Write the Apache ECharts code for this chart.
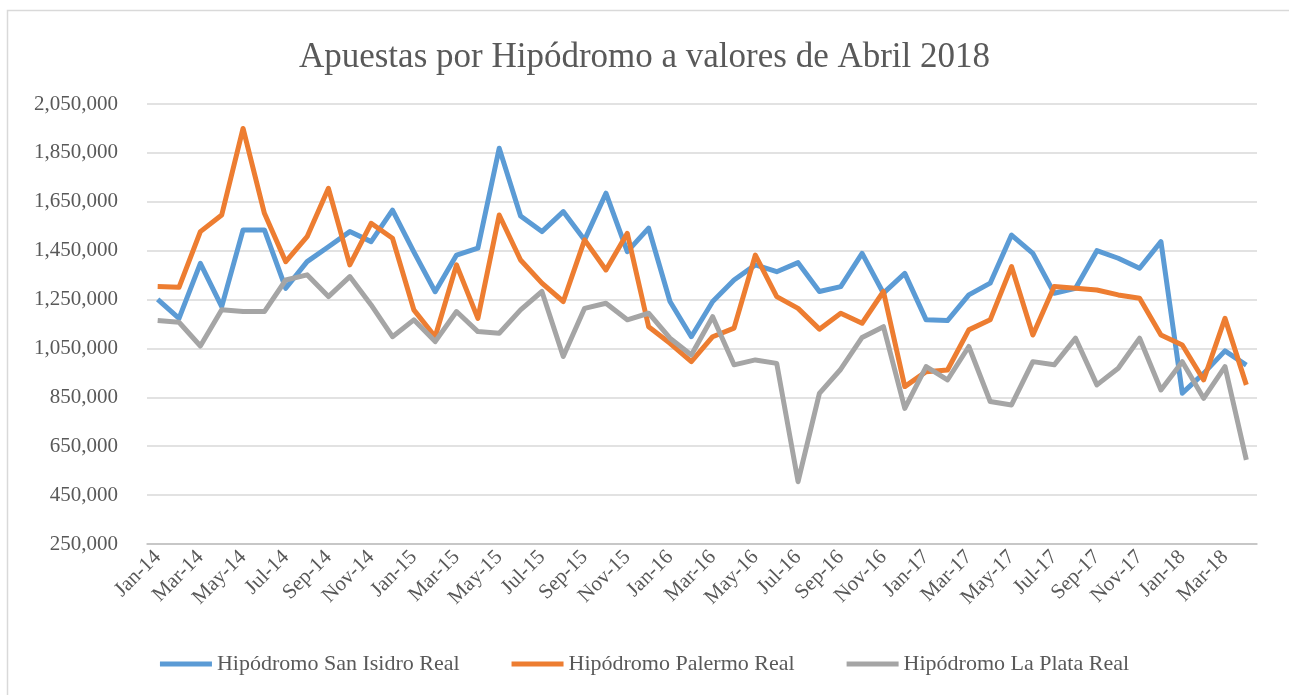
<!DOCTYPE html>
<html>
<head>
<meta charset="utf-8">
<script src="https://cdn.jsdelivr.net/npm/echarts@6/dist/echarts.min.js"></script>
<style>
  html, body { margin: 0; padding: 0; background: #fff; }
  #main { width: 1289px; height: 695px; }
</style>
</head>
<body>
<div id="main"></div>
<script>
  var months = [
    'Jan-14', 'Feb-14', 'Mar-14', 'Apr-14', 'May-14', 'Jun-14', 'Jul-14', 'Aug-14', 'Sep-14', 'Oct-14', 'Nov-14', 'Dec-14',
    'Jan-15', 'Feb-15', 'Mar-15', 'Apr-15', 'May-15', 'Jun-15', 'Jul-15', 'Aug-15', 'Sep-15', 'Oct-15', 'Nov-15', 'Dec-15',
    'Jan-16', 'Feb-16', 'Mar-16', 'Apr-16', 'May-16', 'Jun-16', 'Jul-16', 'Aug-16', 'Sep-16', 'Oct-16', 'Nov-16', 'Dec-16',
    'Jan-17', 'Feb-17', 'Mar-17', 'Apr-17', 'May-17', 'Jun-17', 'Jul-17', 'Aug-17', 'Sep-17', 'Oct-17', 'Nov-17', 'Dec-17',
    'Jan-18', 'Feb-18', 'Mar-18', 'Apr-18'
  ]

  // Hipódromo San Isidro Real
  var sanIsidro = [
    1251000, 1173000, 1398000, 1221000, 1535000, 1535000, 1296000, 1405000, 1466000, 1528000, 1487000, 1616000,
    1445000, 1282000, 1432000, 1460000, 1869000, 1592000, 1528000, 1610000, 1494000, 1685000, 1446000, 1542000,
    1242000, 1098000, 1242000, 1330000, 1392000, 1364000, 1401000, 1283000, 1303000, 1439000, 1276000, 1357000,
    1167000, 1164000, 1269000, 1317000, 1514000, 1439000, 1276000, 1296000, 1450000, 1419000, 1378000, 1487000,
    867000, 948000, 1040000, 982000
  ]

  // Hipódromo Palermo Real
  var palermo = [
    1303000, 1300000, 1528000, 1596000, 1950000, 1603000, 1405000, 1507000, 1705000, 1392000, 1562000, 1501000,
    1208000, 1098000, 1392000, 1173000, 1596000, 1412000, 1317000, 1242000, 1494000, 1371000, 1521000, 1139000,
    1071000, 996000, 1098000, 1133000, 1432000, 1262000, 1214000, 1129000, 1194000, 1153000, 1283000, 894000,
    955000, 962000, 1126000, 1167000, 1385000, 1105000, 1303000, 1296000, 1289000, 1269000, 1255000, 1105000,
    1064000, 921000, 1173000, 901000
  ]

  // Hipódromo La Plata Real
  var laPlata = [
    1164000, 1157000, 1060000, 1208000, 1201000, 1201000, 1330000, 1351000, 1262000, 1344000, 1228000, 1098000,
    1167000, 1078000, 1201000, 1119000, 1112000, 1208000, 1283000, 1017000, 1214000, 1235000, 1167000, 1194000,
    1092000, 1023000, 1180000, 983000, 1003000, 989000, 505000, 866000, 965000, 1095000, 1139000, 805000,
    976000, 921000, 1058000, 833000, 819000, 996000, 983000, 1092000, 901000, 969000, 1092000, 880000,
    996000, 846000, 976000, 594000
  ]

  var seriesNames = ['Hipódromo San Isidro Real', 'Hipódromo Palermo Real', 'Hipódromo La Plata Real']
  var colors = ['#5B9BD5', '#ED7D31', '#A5A5A5']

  var font = "'Liberation Serif', 'Times New Roman', serif"
  var myChart = echarts.init(document.getElementById('main'))

  function fmt(v) {
    return String(v).replace(/\B(?=(\d{3})+(?!\d))/g, ',')
  }

  function makeLine(name, data, color) {
    return {
      name: name,
      type: 'line',
      data: data,
      showSymbol: false,
      symbol: 'none',
      lineStyle: { width: 5, color: color, join: 'round' },
      itemStyle: { color: color },
    }
  }

  var option = {
    animation: false,
    backgroundColor: '#fff',
    graphic: [
      {
        type: 'rect',
        shape: { x: 7.5, y: 10.5, width: 1300, height: 700 },
        style: { fill: 'none', stroke: '#d9d9d9', lineWidth: 1.5 },
        silent: true,
      },
    ],
    title: {
      text: 'Apuestas por Hipódromo a valores de Abril 2018',
      left: 'center',
      top: 35,
      textStyle: { fontFamily: font, fontSize: 35, fontWeight: 'normal', color: '#595959' },
    },
    legend: {
      bottom: 15,
      left: 'center',
      icon: 'rect',
      itemWidth: 52,
      itemHeight: 5,
      itemGap: 52,
      textStyle: { fontFamily: font, fontSize: 22, color: '#595959' },
      data: seriesNames,
    },
    grid: { left: 147, right: 32, top: 104, bottom: 151, containLabel: false },
    xAxis: {
      type: 'category',
      data: months,
      boundaryGap: true,
      axisLine: { lineStyle: { color: '#bfbfbf', width: 1.5 } },
      axisTick: { interval: 1, length: 6, lineStyle: { color: '#bfbfbf', width: 1.5 } },
      axisLabel: {
        interval: 1,
        rotate: 45,
        margin: 10,
        fontFamily: font,
        fontSize: 21,
        color: '#595959',
      },
      splitLine: { show: false },
    },
    yAxis: {
      type: 'value',
      min: 250000,
      max: 2050000,
      interval: 200000,
      axisLine: { show: false },
      axisTick: { show: false },
      axisLabel: {
        margin: 29,
        fontFamily: font,
        fontSize: 21,
        color: '#595959',
        formatter: fmt,
      },
      splitLine: { lineStyle: { color: '#d9d9d9', width: 1.5 } },
    },
    series: [
      makeLine(seriesNames[0], sanIsidro, colors[0]),
      makeLine(seriesNames[1], palermo, colors[1]),
      makeLine(seriesNames[2], laPlata, colors[2]),
    ],
  }

  myChart.setOption(option)
  window.addEventListener('resize', function () {
    myChart.resize()
  })
</script>
</body>
</html>
